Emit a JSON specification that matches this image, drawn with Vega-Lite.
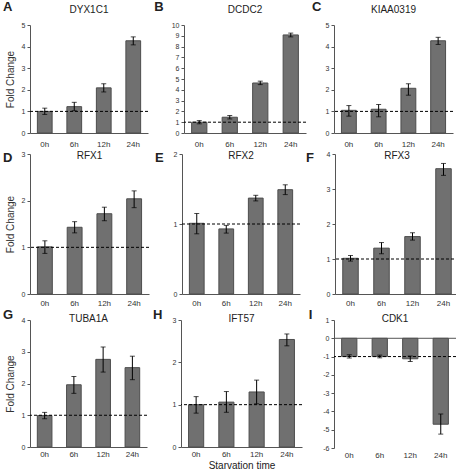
{
  "$schema": "https://vega.github.io/schema/vega-lite/v6.json",
  "padding": {"left": 3, "top": 1, "right": 1, "bottom": 0},
  "spacing": 2,
  "config": {
    "font": "Liberation Sans",
    "view": {"stroke": null},
    "axis": {"grid": false, "labelColor": "#333", "domainColor": "#555", "tickColor": "#555", "labelFont": "Liberation Sans", "titleFont": "Liberation Sans"},
    "axisY": {"tickSize": 3, "labelFontSize": 7, "labelPadding": 2, "labelOverlap": false, "labelExpr": "toString(datum.value)", "titleFontSize": 10, "titleFontWeight": "normal", "titlePadding": 6, "titleColor": "#333"},
    "axisX": {"ticks": false, "labelFontSize": 8, "labelPadding": 7, "labelAngle": 0, "titleFontSize": 10, "titleFontWeight": "normal", "titlePadding": 2, "titleColor": "#222"},
    "title": {"font": "Liberation Sans", "color": "#222"},
    "concat": {"spacing": 6}
  },
  "datasets": {
    "d": [
      {"gene": "DYX1C1", "time": "0h", "value": 1.0, "lo": 0.86, "hi": 1.15},
      {"gene": "DYX1C1", "time": "6h", "value": 1.22, "lo": 1.03, "hi": 1.42},
      {"gene": "DYX1C1", "time": "12h", "value": 2.09, "lo": 1.9, "hi": 2.28},
      {"gene": "DYX1C1", "time": "24h", "value": 4.27, "lo": 4.08, "hi": 4.45},
      {"gene": "DCDC2", "time": "0h", "value": 1.0, "lo": 0.85, "hi": 1.15},
      {"gene": "DCDC2", "time": "6h", "value": 1.46, "lo": 1.3, "hi": 1.62},
      {"gene": "DCDC2", "time": "12h", "value": 4.63, "lo": 4.48, "hi": 4.8},
      {"gene": "DCDC2", "time": "24h", "value": 9.08, "lo": 8.9, "hi": 9.25},
      {"gene": "KIAA0319", "time": "0h", "value": 1.05, "lo": 0.78, "hi": 1.27},
      {"gene": "KIAA0319", "time": "6h", "value": 1.1, "lo": 0.75, "hi": 1.32},
      {"gene": "KIAA0319", "time": "12h", "value": 2.07, "lo": 1.75, "hi": 2.28},
      {"gene": "KIAA0319", "time": "24h", "value": 4.27, "lo": 4.1, "hi": 4.43},
      {"gene": "RFX1", "time": "0h", "value": 1.01, "lo": 0.87, "hi": 1.14},
      {"gene": "RFX1", "time": "6h", "value": 1.43, "lo": 1.31, "hi": 1.55},
      {"gene": "RFX1", "time": "12h", "value": 1.72, "lo": 1.57, "hi": 1.86},
      {"gene": "RFX1", "time": "24h", "value": 2.04, "lo": 1.85, "hi": 2.21},
      {"gene": "RFX2", "time": "0h", "value": 1.01, "lo": 0.86, "hi": 1.15},
      {"gene": "RFX2", "time": "6h", "value": 0.93, "lo": 0.87, "hi": 0.98},
      {"gene": "RFX2", "time": "12h", "value": 1.37, "lo": 1.33, "hi": 1.41},
      {"gene": "RFX2", "time": "24h", "value": 1.49, "lo": 1.42, "hi": 1.56},
      {"gene": "RFX3", "time": "0h", "value": 1.02, "lo": 0.94, "hi": 1.1},
      {"gene": "RFX3", "time": "6h", "value": 1.31, "lo": 1.15, "hi": 1.47},
      {"gene": "RFX3", "time": "12h", "value": 1.64, "lo": 1.54, "hi": 1.75},
      {"gene": "RFX3", "time": "24h", "value": 3.58, "lo": 3.39, "hi": 3.73},
      {"gene": "TUBA1A", "time": "0h", "value": 0.99, "lo": 0.89, "hi": 1.09},
      {"gene": "TUBA1A", "time": "6h", "value": 1.96, "lo": 1.69, "hi": 2.22},
      {"gene": "TUBA1A", "time": "12h", "value": 2.76, "lo": 2.36, "hi": 3.15},
      {"gene": "TUBA1A", "time": "24h", "value": 2.5, "lo": 2.12, "hi": 2.86},
      {"gene": "IFT57", "time": "0h", "value": 1.0, "lo": 0.8, "hi": 1.19},
      {"gene": "IFT57", "time": "6h", "value": 1.06, "lo": 0.82, "hi": 1.31},
      {"gene": "IFT57", "time": "12h", "value": 1.3, "lo": 1.02, "hi": 1.58},
      {"gene": "IFT57", "time": "24h", "value": 2.54, "lo": 2.39, "hi": 2.67},
      {"gene": "CDK1", "time": "0h", "value": -1.0, "lo": -1.08, "hi": -0.9},
      {"gene": "CDK1", "time": "6h", "value": -1.0, "lo": -1.07, "hi": -0.92},
      {"gene": "CDK1", "time": "12h", "value": -1.12, "lo": -1.27, "hi": -0.97},
      {"gene": "CDK1", "time": "24h", "value": -4.7, "lo": -5.24, "hi": -4.14}
    ]
  },
  "vconcat": [
    {"spacing": 5, "hconcat": [
      {"title": {"text": "A", "anchor": "start", "frame": "bounds", "offset": -9, "dx": -2, "fontSize": 13, "fontWeight": "bold"},
       "vconcat": [{"title": {"text": "DYX1C1", "offset": 6, "fontSize": 10, "fontWeight": "normal"},
        "width": 118, "height": 108, "data": {"name": "d"}, "transform": [{"filter": "datum.gene === 'DYX1C1'"}],
        "layer": [
          {"mark": {"type": "bar", "fill": "#707070", "stroke": "#4d4d4d", "strokeWidth": 1},
           "encoding": {"x": {"field": "time", "type": "nominal", "sort": ["0h","6h","12h","24h"], "scale": {"paddingInner": 0.5, "paddingOuter": 0.25}, "axis": {"title": null}},
                        "y": {"field": "value", "type": "quantitative", "scale": {"domain": [0, 5], "nice": false}, "axis": {"title": "Fold Change", "values": [0,1,2,3,4,5]}}}},
          {"mark": {"type": "rule", "color": "black", "strokeWidth": 1}, "encoding": {"x": {"field": "time", "type": "nominal", "sort": ["0h","6h","12h","24h"]}, "y": {"field": "lo", "type": "quantitative", "axis": {"values": [0,1,2,3,4,5]}}, "y2": {"field": "hi"}}},
          {"mark": {"type": "tick", "color": "black", "size": 5, "thickness": 1}, "encoding": {"x": {"field": "time", "type": "nominal", "sort": ["0h","6h","12h","24h"]}, "y": {"field": "lo", "type": "quantitative", "axis": {"values": [0,1,2,3,4,5]}}}},
          {"mark": {"type": "tick", "color": "black", "size": 5, "thickness": 1}, "encoding": {"x": {"field": "time", "type": "nominal", "sort": ["0h","6h","12h","24h"]}, "y": {"field": "hi", "type": "quantitative", "axis": {"values": [0,1,2,3,4,5]}}}},
          {"transform": [{"filter": "datum.time === '0h'"}], "mark": {"type": "rule", "color": "black", "strokeWidth": 1, "strokeDash": [3, 2]}, "encoding": {"y": {"datum": 1, "axis": {"values": [0,1,2,3,4,5]}}}}
        ]}]},
      {"title": {"text": "B", "anchor": "start", "frame": "bounds", "offset": -9, "dx": -17, "fontSize": 13, "fontWeight": "bold"},
       "vconcat": [{"title": {"text": "DCDC2", "offset": 6, "fontSize": 10, "fontWeight": "normal"},
        "width": 122, "height": 108, "data": {"name": "d"}, "transform": [{"filter": "datum.gene === 'DCDC2'"}],
        "layer": [
          {"mark": {"type": "bar", "fill": "#707070", "stroke": "#4d4d4d", "strokeWidth": 1},
           "encoding": {"x": {"field": "time", "type": "nominal", "sort": ["0h","6h","12h","24h"], "scale": {"paddingInner": 0.5, "paddingOuter": 0.25}, "axis": {"title": null}},
                        "y": {"field": "value", "type": "quantitative", "scale": {"domain": [0, 10], "nice": false}, "axis": {"title": null, "values": [0,1,2,3,4,5,6,7,8,9,10]}}}},
          {"mark": {"type": "rule", "color": "black", "strokeWidth": 1}, "encoding": {"x": {"field": "time", "type": "nominal", "sort": ["0h","6h","12h","24h"]}, "y": {"field": "lo", "type": "quantitative", "axis": {"values": [0,1,2,3,4,5,6,7,8,9,10]}}, "y2": {"field": "hi"}}},
          {"mark": {"type": "tick", "color": "black", "size": 5, "thickness": 1}, "encoding": {"x": {"field": "time", "type": "nominal", "sort": ["0h","6h","12h","24h"]}, "y": {"field": "lo", "type": "quantitative", "axis": {"values": [0,1,2,3,4,5,6,7,8,9,10]}}}},
          {"mark": {"type": "tick", "color": "black", "size": 5, "thickness": 1}, "encoding": {"x": {"field": "time", "type": "nominal", "sort": ["0h","6h","12h","24h"]}, "y": {"field": "hi", "type": "quantitative", "axis": {"values": [0,1,2,3,4,5,6,7,8,9,10]}}}},
          {"transform": [{"filter": "datum.time === '0h'"}], "mark": {"type": "rule", "color": "black", "strokeWidth": 1, "strokeDash": [3, 2]}, "encoding": {"y": {"datum": 1, "axis": {"values": [0,1,2,3,4,5,6,7,8,9,10]}}}}
        ]}]},
      {"title": {"text": "C", "anchor": "start", "frame": "bounds", "offset": -9, "dx": -13, "fontSize": 13, "fontWeight": "bold"},
       "vconcat": [{"title": {"text": "KIAA0319", "offset": 6, "fontSize": 10, "fontWeight": "normal"},
        "width": 119, "height": 108, "data": {"name": "d"}, "transform": [{"filter": "datum.gene === 'KIAA0319'"}],
        "layer": [
          {"mark": {"type": "bar", "fill": "#707070", "stroke": "#4d4d4d", "strokeWidth": 1},
           "encoding": {"x": {"field": "time", "type": "nominal", "sort": ["0h","6h","12h","24h"], "scale": {"paddingInner": 0.5, "paddingOuter": 0.25}, "axis": {"title": null}},
                        "y": {"field": "value", "type": "quantitative", "scale": {"domain": [0, 5], "nice": false}, "axis": {"title": null, "values": [0,1,2,3,4,5]}}}},
          {"mark": {"type": "rule", "color": "black", "strokeWidth": 1}, "encoding": {"x": {"field": "time", "type": "nominal", "sort": ["0h","6h","12h","24h"]}, "y": {"field": "lo", "type": "quantitative", "axis": {"values": [0,1,2,3,4,5]}}, "y2": {"field": "hi"}}},
          {"mark": {"type": "tick", "color": "black", "size": 5, "thickness": 1}, "encoding": {"x": {"field": "time", "type": "nominal", "sort": ["0h","6h","12h","24h"]}, "y": {"field": "lo", "type": "quantitative", "axis": {"values": [0,1,2,3,4,5]}}}},
          {"mark": {"type": "tick", "color": "black", "size": 5, "thickness": 1}, "encoding": {"x": {"field": "time", "type": "nominal", "sort": ["0h","6h","12h","24h"]}, "y": {"field": "hi", "type": "quantitative", "axis": {"values": [0,1,2,3,4,5]}}}},
          {"transform": [{"filter": "datum.time === '0h'"}], "mark": {"type": "rule", "color": "black", "strokeWidth": 1, "strokeDash": [3, 2]}, "encoding": {"y": {"datum": 1, "axis": {"values": [0,1,2,3,4,5]}}}}
        ]}]}
    ]},
    {"spacing": 5, "hconcat": [
      {"title": {"text": "D", "anchor": "start", "frame": "bounds", "offset": -15, "dx": -2, "fontSize": 13, "fontWeight": "bold"},
       "vconcat": [{"title": {"text": "RFX1", "offset": -11, "fontSize": 10, "fontWeight": "normal"},
        "width": 119, "height": 140, "data": {"name": "d"}, "transform": [{"filter": "datum.gene === 'RFX1'"}],
        "layer": [
          {"mark": {"type": "bar", "fill": "#707070", "stroke": "#4d4d4d", "strokeWidth": 1},
           "encoding": {"x": {"field": "time", "type": "nominal", "sort": ["0h","6h","12h","24h"], "scale": {"paddingInner": 0.5, "paddingOuter": 0.25}, "axis": {"title": null, "labelPadding": 5}},
                        "y": {"field": "value", "type": "quantitative", "scale": {"domain": [0, 3], "nice": false}, "axis": {"title": "Fold Change", "values": [0,1,2,3]}}}},
          {"mark": {"type": "rule", "color": "black", "strokeWidth": 1}, "encoding": {"x": {"field": "time", "type": "nominal", "sort": ["0h","6h","12h","24h"]}, "y": {"field": "lo", "type": "quantitative", "axis": {"values": [0,1,2,3]}}, "y2": {"field": "hi"}}},
          {"mark": {"type": "tick", "color": "black", "size": 5, "thickness": 1}, "encoding": {"x": {"field": "time", "type": "nominal", "sort": ["0h","6h","12h","24h"]}, "y": {"field": "lo", "type": "quantitative", "axis": {"values": [0,1,2,3]}}}},
          {"mark": {"type": "tick", "color": "black", "size": 5, "thickness": 1}, "encoding": {"x": {"field": "time", "type": "nominal", "sort": ["0h","6h","12h","24h"]}, "y": {"field": "hi", "type": "quantitative", "axis": {"values": [0,1,2,3]}}}},
          {"transform": [{"filter": "datum.time === '0h'"}], "mark": {"type": "rule", "color": "black", "strokeWidth": 1, "strokeDash": [3, 2]}, "encoding": {"y": {"datum": 1, "axis": {"values": [0,1,2,3]}}}}
        ]}]},
      {"title": {"text": "E", "anchor": "start", "frame": "bounds", "offset": -15, "dx": -18, "fontSize": 13, "fontWeight": "bold"},
       "vconcat": [{"title": {"text": "RFX2", "offset": -11, "fontSize": 10, "fontWeight": "normal"},
        "width": 118, "height": 140, "data": {"name": "d"}, "transform": [{"filter": "datum.gene === 'RFX2'"}],
        "layer": [
          {"mark": {"type": "bar", "fill": "#707070", "stroke": "#4d4d4d", "strokeWidth": 1},
           "encoding": {"x": {"field": "time", "type": "nominal", "sort": ["0h","6h","12h","24h"], "scale": {"paddingInner": 0.5, "paddingOuter": 0.25}, "axis": {"title": null, "labelPadding": 5}},
                        "y": {"field": "value", "type": "quantitative", "scale": {"domain": [0, 2], "nice": false}, "axis": {"title": null, "values": [0,1,2]}}}},
          {"mark": {"type": "rule", "color": "black", "strokeWidth": 1}, "encoding": {"x": {"field": "time", "type": "nominal", "sort": ["0h","6h","12h","24h"]}, "y": {"field": "lo", "type": "quantitative", "axis": {"values": [0,1,2]}}, "y2": {"field": "hi"}}},
          {"mark": {"type": "tick", "color": "black", "size": 5, "thickness": 1}, "encoding": {"x": {"field": "time", "type": "nominal", "sort": ["0h","6h","12h","24h"]}, "y": {"field": "lo", "type": "quantitative", "axis": {"values": [0,1,2]}}}},
          {"mark": {"type": "tick", "color": "black", "size": 5, "thickness": 1}, "encoding": {"x": {"field": "time", "type": "nominal", "sort": ["0h","6h","12h","24h"]}, "y": {"field": "hi", "type": "quantitative", "axis": {"values": [0,1,2]}}}},
          {"transform": [{"filter": "datum.time === '0h'"}], "mark": {"type": "rule", "color": "black", "strokeWidth": 1, "strokeDash": [3, 2]}, "encoding": {"y": {"datum": 1, "axis": {"values": [0,1,2]}}}}
        ]}]},
      {"title": {"text": "F", "anchor": "start", "frame": "bounds", "offset": -15, "dx": -20, "fontSize": 13, "fontWeight": "bold"},
       "vconcat": [{"title": {"text": "RFX3", "offset": -11, "fontSize": 10, "fontWeight": "normal"},
        "width": 124, "height": 140, "data": {"name": "d"}, "transform": [{"filter": "datum.gene === 'RFX3'"}],
        "layer": [
          {"mark": {"type": "bar", "fill": "#707070", "stroke": "#4d4d4d", "strokeWidth": 1},
           "encoding": {"x": {"field": "time", "type": "nominal", "sort": ["0h","6h","12h","24h"], "scale": {"paddingInner": 0.5, "paddingOuter": 0.25}, "axis": {"title": null, "labelPadding": 5}},
                        "y": {"field": "value", "type": "quantitative", "scale": {"domain": [0, 4], "nice": false}, "axis": {"title": null, "values": [0,1,2,3,4]}}}},
          {"mark": {"type": "rule", "color": "black", "strokeWidth": 1}, "encoding": {"x": {"field": "time", "type": "nominal", "sort": ["0h","6h","12h","24h"]}, "y": {"field": "lo", "type": "quantitative", "axis": {"values": [0,1,2,3,4]}}, "y2": {"field": "hi"}}},
          {"mark": {"type": "tick", "color": "black", "size": 5, "thickness": 1}, "encoding": {"x": {"field": "time", "type": "nominal", "sort": ["0h","6h","12h","24h"]}, "y": {"field": "lo", "type": "quantitative", "axis": {"values": [0,1,2,3,4]}}}},
          {"mark": {"type": "tick", "color": "black", "size": 5, "thickness": 1}, "encoding": {"x": {"field": "time", "type": "nominal", "sort": ["0h","6h","12h","24h"]}, "y": {"field": "hi", "type": "quantitative", "axis": {"values": [0,1,2,3,4]}}}},
          {"transform": [{"filter": "datum.time === '0h'"}], "mark": {"type": "rule", "color": "black", "strokeWidth": 1, "strokeDash": [3, 2]}, "encoding": {"y": {"datum": 1, "axis": {"values": [0,1,2,3,4]}}}}
        ]}]}
    ]},
    {"spacing": 5, "hconcat": [
      {"title": {"text": "G", "anchor": "start", "frame": "bounds", "offset": -8, "dx": -2, "fontSize": 13, "fontWeight": "bold"},
       "vconcat": [{"title": {"text": "TUBA1A", "offset": -8, "fontSize": 10, "fontWeight": "normal"},
        "width": 117, "height": 127, "data": {"name": "d"}, "transform": [{"filter": "datum.gene === 'TUBA1A'"}],
        "layer": [
          {"mark": {"type": "bar", "fill": "#707070", "stroke": "#4d4d4d", "strokeWidth": 1},
           "encoding": {"x": {"field": "time", "type": "nominal", "sort": ["0h","6h","12h","24h"], "scale": {"paddingInner": 0.5, "paddingOuter": 0.25}, "axis": {"title": null, "labelPadding": 3}},
                        "y": {"field": "value", "type": "quantitative", "scale": {"domain": [0, 4], "nice": false}, "axis": {"title": "Fold Change", "values": [0,1,2,3,4]}}}},
          {"mark": {"type": "rule", "color": "black", "strokeWidth": 1}, "encoding": {"x": {"field": "time", "type": "nominal", "sort": ["0h","6h","12h","24h"]}, "y": {"field": "lo", "type": "quantitative", "axis": {"values": [0,1,2,3,4]}}, "y2": {"field": "hi"}}},
          {"mark": {"type": "tick", "color": "black", "size": 5, "thickness": 1}, "encoding": {"x": {"field": "time", "type": "nominal", "sort": ["0h","6h","12h","24h"]}, "y": {"field": "lo", "type": "quantitative", "axis": {"values": [0,1,2,3,4]}}}},
          {"mark": {"type": "tick", "color": "black", "size": 5, "thickness": 1}, "encoding": {"x": {"field": "time", "type": "nominal", "sort": ["0h","6h","12h","24h"]}, "y": {"field": "hi", "type": "quantitative", "axis": {"values": [0,1,2,3,4]}}}},
          {"transform": [{"filter": "datum.time === '0h'"}], "mark": {"type": "rule", "color": "black", "strokeWidth": 1, "strokeDash": [3, 2]}, "encoding": {"y": {"datum": 1, "axis": {"values": [0,1,2,3,4]}}}}
        ]}]},
      {"title": {"text": "H", "anchor": "start", "frame": "bounds", "offset": -8, "dx": -19, "fontSize": 13, "fontWeight": "bold"},
       "vconcat": [{"title": {"text": "IFT57", "offset": -8, "fontSize": 10, "fontWeight": "normal"},
        "width": 121, "height": 127, "data": {"name": "d"}, "transform": [{"filter": "datum.gene === 'IFT57'"}],
        "layer": [
          {"mark": {"type": "bar", "fill": "#707070", "stroke": "#4d4d4d", "strokeWidth": 1},
           "encoding": {"x": {"field": "time", "type": "nominal", "sort": ["0h","6h","12h","24h"], "scale": {"paddingInner": 0.5, "paddingOuter": 0.25}, "axis": {"title": "Starvation time", "labelPadding": 3}},
                        "y": {"field": "value", "type": "quantitative", "scale": {"domain": [0, 3], "nice": false}, "axis": {"title": null, "values": [0,1,2,3]}}}},
          {"mark": {"type": "rule", "color": "black", "strokeWidth": 1}, "encoding": {"x": {"field": "time", "type": "nominal", "sort": ["0h","6h","12h","24h"]}, "y": {"field": "lo", "type": "quantitative", "axis": {"values": [0,1,2,3]}}, "y2": {"field": "hi"}}},
          {"mark": {"type": "tick", "color": "black", "size": 5, "thickness": 1}, "encoding": {"x": {"field": "time", "type": "nominal", "sort": ["0h","6h","12h","24h"]}, "y": {"field": "lo", "type": "quantitative", "axis": {"values": [0,1,2,3]}}}},
          {"mark": {"type": "tick", "color": "black", "size": 5, "thickness": 1}, "encoding": {"x": {"field": "time", "type": "nominal", "sort": ["0h","6h","12h","24h"]}, "y": {"field": "hi", "type": "quantitative", "axis": {"values": [0,1,2,3]}}}},
          {"transform": [{"filter": "datum.time === '0h'"}], "mark": {"type": "rule", "color": "black", "strokeWidth": 1, "strokeDash": [3, 2]}, "encoding": {"y": {"datum": 1, "axis": {"values": [0,1,2,3]}}}}
        ]}]},
      {"title": {"text": "I", "anchor": "start", "frame": "bounds", "offset": -8, "dx": -14, "fontSize": 13, "fontWeight": "bold"},
       "vconcat": [{"title": {"text": "CDK1", "offset": -8, "fontSize": 10, "fontWeight": "normal"},
        "width": 122, "height": 128, "data": {"name": "d"}, "transform": [{"filter": "datum.gene === 'CDK1'"}],
        "layer": [
          {"mark": {"type": "bar", "fill": "#707070", "stroke": "#4d4d4d", "strokeWidth": 1},
           "encoding": {"x": {"field": "time", "type": "nominal", "sort": ["0h","6h","12h","24h"], "scale": {"paddingInner": 0.5, "paddingOuter": 0.25}, "axis": {"title": null, "domain": false, "labelPadding": 3}},
                        "y": {"field": "value", "type": "quantitative", "scale": {"domain": [-6, 1], "nice": false}, "axis": {"title": null, "values": [-6,-5,-4,-3,-2,-1,0,1]}}}},
          {"mark": {"type": "rule", "color": "black", "strokeWidth": 1}, "encoding": {"x": {"field": "time", "type": "nominal", "sort": ["0h","6h","12h","24h"]}, "y": {"field": "lo", "type": "quantitative", "axis": {"values": [-6,-5,-4,-3,-2,-1,0,1]}}, "y2": {"field": "hi"}}},
          {"mark": {"type": "tick", "color": "black", "size": 5, "thickness": 1}, "encoding": {"x": {"field": "time", "type": "nominal", "sort": ["0h","6h","12h","24h"]}, "y": {"field": "lo", "type": "quantitative", "axis": {"values": [-6,-5,-4,-3,-2,-1,0,1]}}}},
          {"mark": {"type": "tick", "color": "black", "size": 5, "thickness": 1}, "encoding": {"x": {"field": "time", "type": "nominal", "sort": ["0h","6h","12h","24h"]}, "y": {"field": "hi", "type": "quantitative", "axis": {"values": [-6,-5,-4,-3,-2,-1,0,1]}}}},
          {"transform": [{"filter": "datum.time === '0h'"}], "mark": {"type": "rule", "color": "#555", "strokeWidth": 1}, "encoding": {"y": {"datum": 0, "axis": {"values": [-6,-5,-4,-3,-2,-1,0,1]}}}},
          {"transform": [{"filter": "datum.time === '0h'"}], "mark": {"type": "rule", "color": "black", "strokeWidth": 1, "strokeDash": [3, 2]}, "encoding": {"y": {"datum": -1, "axis": {"values": [-6,-5,-4,-3,-2,-1,0,1]}}}}
        ]}]}
    ]}
  ]
}
